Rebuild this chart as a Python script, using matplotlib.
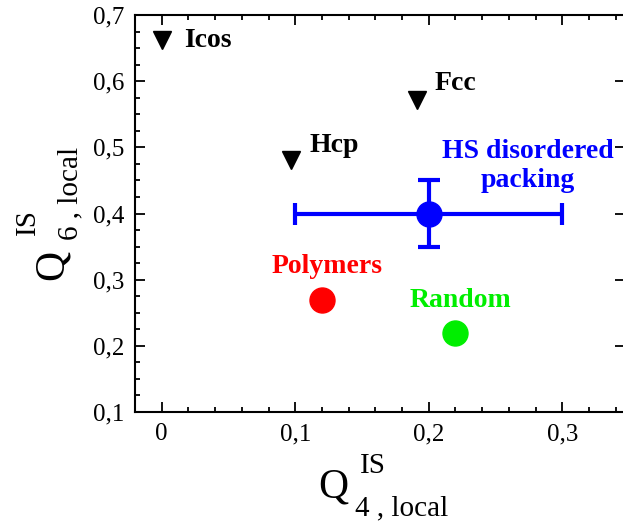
import matplotlib.pyplot as plt
from matplotlib.ticker import MultipleLocator, FuncFormatter

plt.rcParams['font.family'] = ['Liberation Serif', 'DejaVu Serif']

# crystal references (triangles)
crystal_names = ["Icos", "Hcp", "Fcc"]
crystal_q4 = [0.0, 0.097, 0.191]
crystal_q6 = [0.662, 0.481, 0.571]

# HS disordered packing with error bars
hs_q4 = 0.2
hs_q6 = 0.4
hs_q4_err = 0.1
hs_q6_err = 0.05

# other disordered structures
other_names = ["Polymers", "Random"]
other_q4 = [0.12, 0.22]
other_q6 = [0.27, 0.22]
other_colors = ["#ff0000", "#00ee00"]

W, H = 623, 523
fig = plt.figure(figsize=(W / 100, H / 100), dpi=100)
ax = fig.add_axes([135 / W, 1 - 412 / H, 490 / W, 397 / H])


def fx(px):
    return px / W


def fy(py):
    return 1 - py / H


ax.plot(crystal_q4, crystal_q6, "v", color="black", markersize=13, clip_on=False)
ax.errorbar(hs_q4, hs_q6, xerr=hs_q4_err, yerr=hs_q6_err, fmt="o", color="#0000ff",
            markersize=18, elinewidth=3, capsize=8, capthick=3)
for x, y, c in zip(other_q4, other_q6, other_colors):
    ax.plot(x, y, "o", color=c, markersize=18)

# text labels next to the points
offsets = [(0.017, -0.010), (0.014, 0.012), (0.0135, 0.016)]
for name, x, y, (dx, dy) in zip(crystal_names, crystal_q4, crystal_q6, offsets):
    ax.text(x + dx, y + dy, name, fontsize=20, fontweight="bold", va="baseline")

ax.text(hs_q4 + 0.074, hs_q6 + 0.084, "HS disordered", fontsize=20, fontweight="bold",
        color="#0000ff", ha="center", va="baseline")
ax.text(hs_q4 + 0.074, hs_q6 + 0.040, "packing", fontsize=20, fontweight="bold",
        color="#0000ff", ha="center", va="baseline")

other_dy = [0.040, 0.038]
for name, x, y, c, dy in zip(other_names, other_q4, other_q6, other_colors, other_dy):
    ax.text(x + 0.0036, y + dy, name, fontsize=20, fontweight="bold", color=c,
            ha="center", va="baseline")

ax.set_xlim(-0.02, 0.347)
ax.set_ylim(0.1, 0.7)
ax.xaxis.set_major_locator(MultipleLocator(0.1))
ax.xaxis.set_minor_locator(MultipleLocator(0.02))
ax.yaxis.set_major_locator(MultipleLocator(0.1))
ax.yaxis.set_minor_locator(MultipleLocator(0.025))
comma = FuncFormatter(lambda v, p: ("%g" % round(v, 3)).replace(".", ","))
ax.xaxis.set_major_formatter(comma)
ax.yaxis.set_major_formatter(comma)

ax.tick_params(which="both", direction="in", top=True, right=True, labelsize=18, width=1.3)
ax.tick_params(which="major", length=7, pad=8)
ax.tick_params(which="minor", length=3.6)
ax.tick_params(axis="y", which="minor", right=False)
for s in ax.spines.values():
    s.set_linewidth(1.5)

# y axis label built from pieces
fig.text(fx(63), fy(280), "Q", fontsize=30, rotation=90, rotation_mode="anchor",
         ha="left", va="baseline")
fig.text(fx(35), fy(235), "IS", fontsize=21, rotation=90, rotation_mode="anchor",
         ha="left", va="baseline")
fig.text(fx(77), fy(240), "6 , local", fontsize=21, rotation=90, rotation_mode="anchor",
         ha="left", va="baseline")

# x axis label built from pieces
fig.text(fx(318), fy(498), "Q", fontsize=30, ha="left", va="baseline")
fig.text(fx(360), fy(473), "IS", fontsize=21, ha="left", va="baseline")
fig.text(fx(355), fy(515), "4 , local", fontsize=21, ha="left", va="baseline")

fig.savefig("out.png", dpi=100)
